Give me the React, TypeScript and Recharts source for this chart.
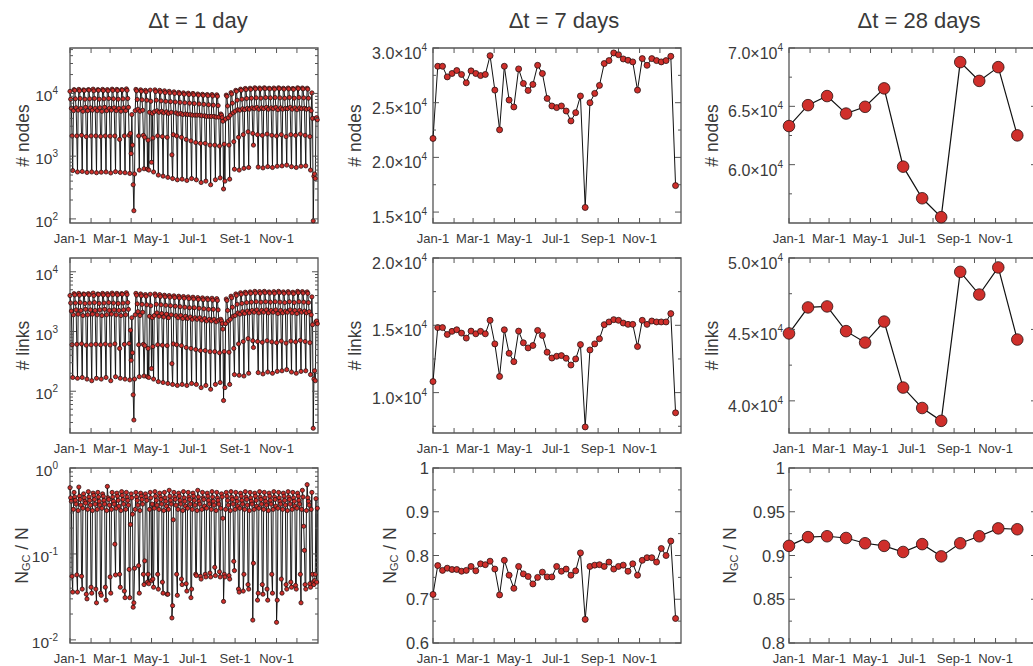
import React from 'react';
import { LineChart, Line, XAxis, YAxis, ReferenceArea } from 'recharts';

const FONT = '"Liberation Sans", Arial, Helvetica, sans-serif';
const INK = '#3a3a3a';
const AXIS = '#555555';
const RED = '#cf2f2b';

// x axis: day of year, a tick at each month start
const monthStarts = [0, 31, 59, 90, 120, 151, 181, 212, 243, 273, 304, 334];
const monthLabelsDaily = ['Jan-1', '', 'Mar-1', '', 'May-1', '', 'Jul-1', '', 'Set-1', '', 'Nov-1', ''];
const monthLabels = ['Jan-1', '', 'Mar-1', '', 'May-1', '', 'Jul-1', '', 'Sep-1', '', 'Nov-1', ''];

const titles = ['Δt = 1 day', 'Δt = 7 days', 'Δt = 28 days'];

// ---- Δt = 1 day (Jan 1 .. Dec 31, one row per week) ----
const nodesDaily = [
  10800, 8100, 5800, 2100, 590,
  5300, 11500, 11200, 8200, 5900, 2100, 560,
  5400, 11600, 11000, 8300, 5800, 2150, 570,
  5200, 11400, 11100, 8100, 6000, 2050, 550,
  5300, 11500, 11300, 8200, 5900, 2100, 560,
  5400, 11700, 11000, 8300, 5800, 2100, 545,
  5300, 11500, 11200, 8100, 5900, 2060, 555,
  5200, 11600, 11100, 8200, 6000, 2100, 560,
  5300, 11500, 11000, 8300, 5800, 2080, 540,
  5400, 11700, 11200, 8200, 5900, 2100, 565,
  5300, 11600, 11100, 8100, 5800, 1850, 550,
  5200, 11500, 11300, 8200, 5900, 2100, 545,
  5300, 11800, 11200, 8300, 6000, 2150, 530,
  2300, 1100, 4600, 1500, 350, 135, 520,
  5300, 11600, 11000, 8000, 5600, 2100, 600,
  5200, 11400, 10800, 7900, 5400, 2150, 630,
  2000, 11200, 10600, 7800, 620, 1800, 600,
  5000, 11300, 7500, 800, 4800, 1950, 560,
  5100, 11400, 10700, 7800, 5300, 2100, 500,
  5000, 11200, 10500, 7600, 5200, 2050, 480,
  4900, 11000, 10300, 7500, 5100, 2000, 460,
  4800, 10800, 10200, 7400, 5000, 1050, 440,
  2200, 10600, 10000, 7300, 4900, 2100, 420,
  4700, 10400, 9900, 7200, 4800, 2000, 430,
  4600, 10200, 9700, 7100, 4700, 1850, 410,
  4600, 10100, 9600, 7000, 4600, 1750, 440,
  4500, 10000, 9500, 6900, 4500, 1650, 420,
  4500, 9800, 9400, 6800, 4500, 1600, 380,
  4400, 9700, 9300, 6700, 4400, 1600, 400,
  4300, 9600, 9200, 6600, 4300, 1500, 350,
  4300, 9600, 9100, 6500, 4300, 1500, 420,
  4200, 9500, 9000, 6400, 4200, 1450, 450,
  4700, 4500, 4100, 3600, 300, 1550, 400,
  3900, 9400, 9000, 6300, 4100, 1500, 430,
  4500, 10300, 9800, 7000, 4900, 1700, 620,
  5200, 11200, 10800, 7800, 5500, 2000, 600,
  5400, 11700, 11200, 8100, 5700, 2200, 640,
  5500, 12000, 11500, 8300, 5800, 2450, 660,
  5600, 12100, 11600, 8400, 5900, 2300, 1500,
  5700, 12300, 11800, 8500, 6000, 2200, 670,
  5600, 12200, 11700, 8400, 5900, 2150, 650,
  5700, 12300, 11900, 8600, 6000, 2250, 680,
  5600, 12100, 11800, 8500, 5900, 2150, 660,
  5700, 12200, 11700, 8600, 6000, 2100, 690,
  5500, 12300, 11900, 8500, 5900, 2200, 700,
  5600, 12100, 11700, 8400, 5800, 2050, 720,
  5700, 12200, 11800, 8600, 6000, 2200, 680,
  5600, 12000, 11600, 8400, 5900, 2150, 660,
  5500, 12300, 11900, 8600, 5900, 2250, 690,
  5700, 12200, 11800, 8500, 5800, 2150, 700,
  5600, 12100, 11700, 8400, 5700, 2050, 600,
  5300, 10200, 4000, 93, 480, 520, 440,
  4000, 4100, 3800,
];

const linksDaily = [
  4000, 3000, 2200, 600, 170,
  1900, 4300, 4100, 3000, 2300, 610, 165,
  1950, 4350, 4050, 3050, 2250, 620, 170,
  1850, 4250, 4150, 2950, 2350, 590, 160,
  1900, 4300, 4100, 3000, 2300, 600, 150,
  1950, 4400, 4000, 3050, 2250, 610, 165,
  1900, 4250, 4150, 2950, 2300, 600, 160,
  1850, 4350, 4100, 3000, 2350, 615, 170,
  1900, 4300, 4050, 3050, 2250, 595, 150,
  1950, 4400, 4150, 3000, 2300, 620, 175,
  1900, 4350, 4100, 2950, 2250, 520, 165,
  1850, 4300, 4200, 3000, 2300, 610, 160,
  1900, 4450, 4150, 3050, 2350, 630, 155,
  1050, 330, 1700, 440, 87, 33, 160,
  1900, 4350, 4050, 2900, 2150, 600, 175,
  1850, 4250, 3950, 2850, 2100, 610, 180,
  580, 4150, 3900, 2800, 175, 520, 170,
  1800, 4200, 2700, 240, 1700, 560, 160,
  1850, 4250, 3950, 2850, 2050, 600, 145,
  1800, 4150, 3850, 2800, 2000, 590, 140,
  1750, 4050, 3800, 2750, 1950, 580, 135,
  1700, 4000, 3750, 2700, 1900, 290, 130,
  620, 3950, 3700, 2650, 1850, 600, 125,
  1700, 3900, 3650, 2600, 1850, 580, 130,
  1650, 3850, 3600, 2550, 1800, 540, 125,
  1650, 3800, 3550, 2500, 1750, 520, 135,
  1600, 3750, 3500, 2500, 1700, 500, 130,
  1600, 3700, 3450, 2450, 1700, 480, 115,
  1550, 3650, 3400, 2400, 1650, 480, 125,
  1500, 3600, 3400, 2350, 1600, 460, 108,
  1500, 3600, 3350, 2350, 1600, 460, 130,
  1450, 3550, 3300, 2300, 1550, 440, 140,
  1600, 1500, 1350, 1100, 70, 460, 115,
  1350, 3500, 3300, 2250, 1500, 450, 130,
  1600, 3900, 3650, 2550, 1800, 520, 190,
  1850, 4250, 4000, 2850, 2050, 620, 185,
  1950, 4450, 4200, 2950, 2150, 680, 180,
  2000, 4550, 4300, 3050, 2200, 760, 200,
  2050, 4600, 4350, 3100, 2250, 700, 540,
  2100, 4700, 4400, 3150, 2300, 680, 205,
  2050, 4650, 4350, 3100, 2250, 660, 195,
  2100, 4700, 4450, 3150, 2300, 700, 210,
  2050, 4600, 4400, 3100, 2250, 670, 200,
  2100, 4650, 4350, 3150, 2300, 650, 215,
  2000, 4700, 4450, 3100, 2250, 690, 220,
  2050, 4600, 4350, 3050, 2200, 640, 230,
  2100, 4650, 4400, 3150, 2300, 690, 210,
  2050, 4550, 4300, 3050, 2250, 670, 200,
  2000, 4700, 4450, 3150, 2250, 710, 215,
  2100, 4650, 4400, 3100, 2200, 680, 220,
  2050, 4600, 4350, 3050, 2150, 650, 190,
  1900, 3800, 1300, 24, 160, 220, 150,
  1450, 1500, 1350,
];

const gcDaily = [
  0.59, 0.45, 0.41, 0.055, 0.036,
  0.33, 0.52, 0.46, 0.42, 0.38, 0.057, 0.036,
  0.32, 0.60, 0.47, 0.43, 0.37, 0.055, 0.039,
  0.34, 0.50, 0.45, 0.41, 0.39, 0.034, 0.030,
  0.33, 0.53, 0.46, 0.42, 0.37, 0.041, 0.035,
  0.32, 0.51, 0.48, 0.43, 0.38, 0.039, 0.027,
  0.33, 0.52, 0.46, 0.41, 0.37, 0.035, 0.033,
  0.34, 0.50, 0.47, 0.42, 0.38, 0.041, 0.029,
  0.32, 0.61, 0.45, 0.43, 0.37, 0.054, 0.035,
  0.33, 0.52, 0.46, 0.41, 0.38, 0.13, 0.057,
  0.34, 0.51, 0.47, 0.42, 0.36, 0.058, 0.041,
  0.32, 0.53, 0.48, 0.43, 0.38, 0.037, 0.031,
  0.33, 0.52, 0.46, 0.42, 0.37, 0.066, 0.031,
  0.22, 0.50, 0.45, 0.29, 0.024, 0.027, 0.068,
  0.33, 0.52, 0.46, 0.42, 0.37, 0.073, 0.035,
  0.32, 0.51, 0.47, 0.43, 0.38, 0.058, 0.044,
  0.083, 0.50, 0.46, 0.42, 0.047, 0.058, 0.045,
  0.33, 0.52, 0.45, 0.049, 0.38, 0.051, 0.041,
  0.34, 0.53, 0.47, 0.42, 0.37, 0.058, 0.039,
  0.33, 0.51, 0.46, 0.43, 0.38, 0.047, 0.035,
  0.32, 0.52, 0.45, 0.41, 0.36, 0.034, 0.034,
  0.33, 0.55, 0.47, 0.42, 0.38, 0.018, 0.025,
  0.25, 0.52, 0.46, 0.43, 0.37, 0.058, 0.033,
  0.33, 0.51, 0.47, 0.42, 0.38, 0.051, 0.044,
  0.32, 0.53, 0.45, 0.41, 0.36, 0.045, 0.037,
  0.34, 0.52, 0.46, 0.43, 0.38, 0.031, 0.039,
  0.33, 0.51, 0.47, 0.42, 0.37, 0.058, 0.056,
  0.32, 0.55, 0.46, 0.41, 0.38, 0.055, 0.051,
  0.33, 0.52, 0.45, 0.43, 0.36, 0.058, 0.054,
  0.34, 0.51, 0.47, 0.42, 0.38, 0.060, 0.054,
  0.33, 0.53, 0.46, 0.41, 0.37, 0.070, 0.056,
  0.32, 0.52, 0.45, 0.42, 0.38, 0.062, 0.054,
  0.34, 0.50, 0.46, 0.26, 0.028, 0.058, 0.054,
  0.33, 0.52, 0.47, 0.42, 0.37, 0.056, 0.051,
  0.32, 0.53, 0.46, 0.43, 0.38, 0.082, 0.064,
  0.33, 0.52, 0.45, 0.41, 0.36, 0.039, 0.036,
  0.34, 0.51, 0.47, 0.42, 0.38, 0.037, 0.058,
  0.33, 0.53, 0.46, 0.43, 0.37, 0.044, 0.039,
  0.32, 0.52, 0.45, 0.41, 0.38, 0.017, 0.078,
  0.33, 0.51, 0.47, 0.42, 0.36, 0.029, 0.035,
  0.34, 0.53, 0.46, 0.43, 0.38, 0.044, 0.034,
  0.33, 0.52, 0.45, 0.41, 0.37, 0.039, 0.029,
  0.32, 0.51, 0.47, 0.42, 0.38, 0.058, 0.035,
  0.33, 0.53, 0.46, 0.43, 0.36, 0.016, 0.029,
  0.34, 0.52, 0.45, 0.41, 0.38, 0.051, 0.035,
  0.33, 0.51, 0.47, 0.42, 0.37, 0.044, 0.039,
  0.32, 0.53, 0.46, 0.43, 0.38, 0.047, 0.041,
  0.33, 0.52, 0.45, 0.41, 0.36, 0.043, 0.039,
  0.34, 0.51, 0.47, 0.42, 0.38, 0.058, 0.027,
  0.33, 0.55, 0.46, 0.21, 0.11, 0.044, 0.039,
  0.32, 0.64, 0.45, 0.41, 0.37, 0.045, 0.041,
  0.33, 0.52, 0.058, 0.047, 0.044, 0.049, 0.058,
  0.44, 0.047, 0.34,
];

// ---- Δt = 7 days ----
const nodesWeekly = [
  21730, 28330, 28330, 27360, 27670, 27940, 27580, 26820, 27910, 27670,
  27480, 27580, 29300, 26150, 22520, 28330, 25240, 24610, 28090, 26760,
  26120, 26670, 28420, 27670, 25390, 24700, 24550, 24700, 24240, 23330,
  24090, 25610, 15420, 25000, 25850, 26580, 28580, 28850, 29550, 29390,
  29000, 28880, 28730, 26150, 29030, 28420, 29030, 28850, 28730, 28850,
  29240, 17420,
];
const linksWeekly = [
  10820, 14830, 14830, 14320, 14550, 14670, 14420, 14050, 14570, 14370,
  14550, 14370, 15370, 13620, 11200, 14670, 12920, 12300, 14570, 13700,
  13320, 13500, 14620, 14250, 13000, 12570, 12700, 12750, 12550, 12050,
  12500, 13570, 7450, 13170, 13620, 14000, 15050, 15250, 15420, 15370,
  15170, 15070, 15070, 13420, 15370, 15070, 15320, 15250, 15250, 15250,
  15870, 8500,
];
const gcWeekly = [
  0.711, 0.777, 0.766, 0.771, 0.768, 0.768, 0.764, 0.766, 0.775, 0.765,
  0.781, 0.779, 0.787, 0.769, 0.71, 0.789, 0.755, 0.725, 0.775, 0.758,
  0.752, 0.735, 0.75, 0.762, 0.751, 0.751, 0.775, 0.764, 0.769, 0.755,
  0.765, 0.806, 0.654, 0.775, 0.778, 0.779, 0.775, 0.785, 0.769, 0.775,
  0.778, 0.764, 0.781, 0.755, 0.789, 0.795, 0.795, 0.785, 0.816, 0.8,
  0.833, 0.656,
];

// ---- Δt = 28 days ----
const nodesMonthly = [63310, 65100, 65880, 64380, 64960, 66540, 59830, 57120, 55500, 68790, 67180, 68360, 62510];
const linksMonthly = [44720, 46540, 46610, 44880, 44080, 45550, 40930, 39500, 38600, 49030, 47440, 49340, 44290];
const gcMonthly = [0.911, 0.921, 0.922, 0.92, 0.914, 0.911, 0.904, 0.913, 0.899, 0.914, 0.922, 0.931, 0.93];

// y ticks
const decadeTicks = [100, 1000, 10000];
const nodesLogMinor = [200, 300, 400, 500, 600, 700, 800, 900, 2000, 3000, 4000, 5000, 6000, 7000, 8000, 9000, 20000, 30000, 40000, 50000];
const linksLogMinor = [30, 40, 50, 60, 70, 80, 90, 200, 300, 400, 500, 600, 700, 800, 900, 2000, 3000, 4000, 5000, 6000, 7000, 8000, 9000];
const gcLogMajor = [0.01, 0.1, 1];
const gcLogMinor = [0.02, 0.03, 0.04, 0.05, 0.06, 0.07, 0.08, 0.09, 0.2, 0.3, 0.4, 0.5, 0.6, 0.7, 0.8, 0.9];

const BOX_W = 248;
const BOX_H = 175;
const PAD_L = 92;
const PAD_T = 12;
const PAD_R = 10;
const PAD_B = 26;

type LabelKind = 'log' | 'sci' | 'plain';
type TitleKind = 'nodes' | 'links' | 'gc';

const YTickLabel = ({ x, y, value, kind }: { x: number; y: number; value: number; kind: LabelKind }) => {
  if (kind === 'log') {
    const exp = Math.round(Math.log10(value));
    return (
      <text x={x - 12} y={y + 8} textAnchor="end" fontSize={15.5} fill={INK} fontFamily={FONT}>
        10<tspan dy={-7} fontSize={10}>{exp}</tspan>
      </text>
    );
  }
  if (kind === 'sci') {
    return (
      <text x={x - 6} y={y + 11} textAnchor="end" fontSize={16} fill={INK} fontFamily={FONT}>
        {(value / 10000).toFixed(1)}×10<tspan dy={-8} fontSize={10}>4</tspan>
      </text>
    );
  }
  return (
    <text x={x - 4} y={y + 6} textAnchor="end" fontSize={16.5} fill={INK} fontFamily={FONT}>
      {String(value)}
    </text>
  );
};

const YTitle = ({ cx, cy, kind }: { cx: number; cy: number; kind: TitleKind }) => (
  <text
    x={cx}
    y={cy}
    transform={`rotate(-90 ${cx} ${cy})`}
    textAnchor="middle"
    dominantBaseline="central"
    fontSize={17.5}
    fill={INK}
    fontFamily={FONT}
  >
    {kind === 'gc' ? (
      <>
        N<tspan fontSize={11} dy={4}>GC</tspan>
        <tspan dy={-4}> / N</tspan>
      </>
    ) : kind === 'nodes' ? '# nodes' : '# links'}
  </text>
);

interface PanelProps {
  left: number;
  top: number;
  values: number[];
  step: number;
  domain: [number, number];
  log: boolean;
  majors: number[];
  minors: number[];
  kind: LabelKind;
  title: TitleKind;
  titleOffset: number;
  xLabels: string[];
  dotR: number;
  lineW: number;
}

const Panel = (p: PanelProps) => {
  const data = p.values.map((v, i) => ({ day: i * p.step, v }));
  const L = PAD_L;
  const R = PAD_L + BOX_W;
  const T = PAD_T;
  const B = PAD_T + BOX_H;
  const majorSet = new Set(p.majors);

  const renderYTick = (t: any) => {
    const val = t.payload.value;
    const y = t.y;
    const major = majorSet.has(val);
    const len = major ? 6 : 3;
    return (
      <g>
        <line x1={L} x2={L + len} y1={y} y2={y} stroke={AXIS} strokeWidth={1} />
        <line x1={R} x2={R - len} y1={y} y2={y} stroke={AXIS} strokeWidth={1} />
        {major && <YTickLabel x={L} y={y} value={val} kind={p.kind} />}
      </g>
    );
  };

  const renderXTick = (t: any) => {
    const val = t.payload.value;
    const x = t.x;
    const lab = p.xLabels[monthStarts.indexOf(val)];
    return (
      <g>
        <line x1={x} x2={x} y1={B} y2={B - 5} stroke={AXIS} strokeWidth={1} />
        <line x1={x} x2={x} y1={T} y2={T + 5} stroke={AXIS} strokeWidth={1} />
        {lab ? (
          <text x={x} y={B + 19.5} textAnchor="middle" fontSize={13} fill={INK} fontFamily={FONT}>
            {lab}
          </text>
        ) : null}
      </g>
    );
  };

  return (
    <div style={{ position: 'absolute', left: p.left - PAD_L, top: p.top - PAD_T }}>
      <LineChart
        width={PAD_L + BOX_W + PAD_R}
        height={PAD_T + BOX_H + PAD_B}
        data={data}
        margin={{ top: PAD_T, right: PAD_R, bottom: 0, left: 0 }}
      >
        <XAxis
          dataKey="day"
          type="number"
          domain={[0, 365]}
          ticks={monthStarts}
          interval={0}
          tick={renderXTick}
          tickLine={false}
          axisLine={false}
          height={PAD_B}
        />
        <YAxis
          dataKey="v"
          type="number"
          scale={p.log ? 'log' : 'linear'}
          domain={p.domain}
          ticks={[...p.majors, ...p.minors]}
          interval={0}
          tick={renderYTick}
          tickLine={false}
          axisLine={false}
          width={PAD_L}
          label={<YTitle cx={PAD_L - p.titleOffset} cy={T + BOX_H / 2} kind={p.title} />}
        />
        <ReferenceArea
          x1={0}
          x2={365}
          y1={p.domain[0]}
          y2={p.domain[1]}
          fill="none"
          fillOpacity={0}
          stroke={AXIS}
          strokeWidth={1.3}
        />
        <Line
          type="linear"
          dataKey="v"
          stroke="#111111"
          strokeWidth={p.lineW}
          dot={{ r: p.dotR, fill: RED, stroke: '#2a1212', strokeWidth: 0.8 }}
          isAnimationActive={false}
        />
      </LineChart>
    </div>
  );
};

const colLeft = [70, 433, 789];
const rowTop = [48, 258, 468];
const titleCenters = [198, 564, 919];

export default function App() {
  const panels: PanelProps[] = [
    // Δt = 1 day
    { left: colLeft[0], top: rowTop[0], values: nodesDaily, step: 1, domain: [86, 53000], log: true, majors: decadeTicks, minors: nodesLogMinor, kind: 'log', title: 'nodes', titleOffset: 47, xLabels: monthLabelsDaily, dotR: 2.1, lineW: 0.95 },
    { left: colLeft[0], top: rowTop[1], values: linksDaily, step: 1, domain: [20, 17000], log: true, majors: decadeTicks, minors: linksLogMinor, kind: 'log', title: 'links', titleOffset: 47, xLabels: monthLabelsDaily, dotR: 2.1, lineW: 0.95 },
    { left: colLeft[0], top: rowTop[2], values: gcDaily, step: 1, domain: [0.0092, 1], log: true, majors: gcLogMajor, minors: gcLogMinor, kind: 'log', title: 'gc', titleOffset: 48, xLabels: monthLabelsDaily, dotR: 2.1, lineW: 0.95 },
    // Δt = 7 days
    { left: colLeft[1], top: rowTop[0], values: nodesWeekly, step: 7, domain: [14000, 30000], log: false, majors: [15000, 20000, 25000, 30000], minors: [17500, 22500, 27500], kind: 'sci', title: 'nodes', titleOffset: 78, xLabels: monthLabels, dotR: 3, lineW: 1 },
    { left: colLeft[1], top: rowTop[1], values: linksWeekly, step: 7, domain: [7000, 20000], log: false, majors: [10000, 15000, 20000], minors: [7500, 12500, 17500], kind: 'sci', title: 'links', titleOffset: 78, xLabels: monthLabels, dotR: 3, lineW: 1 },
    { left: colLeft[1], top: rowTop[2], values: gcWeekly, step: 7, domain: [0.6, 1], log: false, majors: [0.6, 0.7, 0.8, 0.9, 1], minors: [0.65, 0.75, 0.85, 0.95], kind: 'plain', title: 'gc', titleOffset: 43, xLabels: monthLabels, dotR: 3, lineW: 1 },
    // Δt = 28 days
    { left: colLeft[2], top: rowTop[0], values: nodesMonthly, step: 28, domain: [55000, 70000], log: false, majors: [60000, 65000, 70000], minors: [57500, 62500, 67500], kind: 'sci', title: 'nodes', titleOffset: 77, xLabels: monthLabels, dotR: 5.8, lineW: 1.2 },
    { left: colLeft[2], top: rowTop[1], values: linksMonthly, step: 28, domain: [37750, 50000], log: false, majors: [40000, 45000, 50000], minors: [42500, 47500], kind: 'sci', title: 'links', titleOffset: 77, xLabels: monthLabels, dotR: 5.8, lineW: 1.2 },
    { left: colLeft[2], top: rowTop[2], values: gcMonthly, step: 28, domain: [0.8, 1], log: false, majors: [0.8, 0.85, 0.9, 0.95, 1], minors: [0.825, 0.875, 0.925, 0.975], kind: 'plain', title: 'gc', titleOffset: 59, xLabels: monthLabels, dotR: 5.8, lineW: 1.2 },
  ];

  return (
    <div
      style={{
        position: 'absolute',
        left: 0,
        top: 0,
        width: 1033,
        height: 666,
        overflow: 'hidden',
        background: '#ffffff',
        fontFamily: FONT,
      }}
    >
      {titles.map((t, i) => (
        <div
          key={t}
          style={{
            position: 'absolute',
            left: titleCenters[i] - 100,
            top: 7,
            width: 200,
            textAlign: 'center',
            fontSize: 22,
            lineHeight: '28px',
            color: INK,
          }}
        >
          {t}
        </div>
      ))}
      {panels.map((p, i) => (
        <Panel key={i} {...p} />
      ))}
    </div>
  );
}
